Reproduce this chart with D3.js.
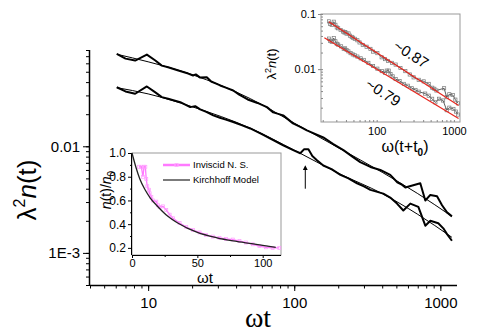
<!DOCTYPE html>
<html>
<head>
<script src="https://d3js.org/d3.v7.min.js"></script>
<style>
  body { margin: 0; background: #fff; }
  svg { font-family: "Liberation Sans", Arial, sans-serif; }
</style>
</head>
<body>
<svg id="chart" width="480" height="334"></svg>
<script>
// main panel: lambda^2 n(t) against wt, two data sets with fits
const upperData = [[6.1,0.0735],[7.0,0.0664],[8.15,0.0637],[9.8,0.0724],[11.2,0.0637],[12.4,0.0571],[13.7,0.0551],[16.1,0.0513],[18.8,0.0481],[20.3,0.0461],[21.2,0.0472],[22.7,0.0441],[25.2,0.0444],[27,0.0405],[29.5,0.0385],[31.1,0.0372],[34,0.0355],[38.2,0.0334],[42,0.0305],[48,0.0275],[56,0.0255],[65,0.0233],[71.8,0.0208],[84,0.0195],[98,0.0164],[110,0.0152],[122,0.0141],[140,0.0130],[158,0.0121],[185,0.0105],[217,0.0092],[250,0.0080],[283,0.0071],[332,0.0064],[388,0.0060],[454,0.0054],[507,0.0046],[540,0.0044],[576,0.0041],[729,0.0045],[789,0.0031],[854,0.0035],[949,0.0034],[1027,0.0028],[1111,0.0024],[1200,0.0022]];
const lowerData = [[6.1,0.0358],[7.0,0.0327],[8.15,0.0311],[9.8,0.0364],[11.2,0.0320],[12.4,0.0289],[13.7,0.0279],[16.6,0.0259],[19.4,0.0233],[21,0.0238],[22.7,0.0222],[25,0.0210],[27.9,0.0195],[31,0.0185],[34,0.0178],[38.2,0.0169],[44,0.0157],[50,0.0147],[60,0.0130],[71.8,0.0114],[84,0.0102],[98.4,0.0092],[110,0.0086],[117,0.0094],[125,0.0094],[133,0.0081],[143,0.0074],[158,0.0066],[180,0.0061],[207,0.0054],[235,0.0050],[269,0.0045],[300,0.0042],[332,0.0039],[407,0.0036],[454,0.0033],[505,0.0029],[558,0.0025],[623,0.0029],[707,0.0027],[789,0.0018],[854,0.0020],[968,0.0019],[1048,0.0017],[1111,0.0015],[1200,0.0013]];
const upperFit = [[6.1,0.073],[10,0.062],[20,0.047],[50,0.028],[100,0.0165],[200,0.0097],[400,0.0057],[700,0.0036],[1200,0.0022]];
const lowerFit = [[6.1,0.0355],[10,0.031],[20,0.0235],[50,0.0148],[100,0.0092],[200,0.0056],[400,0.0036],[700,0.0023],[1200,0.0014]];
const arrowAt = [119, 0.0040, 0.0063];

// top-right inset: same data against w(t+t0)
const t0 = 18;
const insetFitUpper = [[24,0.0724],[1150,0.0022]];
const insetFitLower = [[21,0.0371],[1150,0.00127]];
const slopeLabels = [{text: "~0.87", x: 279, y: 0.0187}, {text: "~0.79", x: 121, y: 0.0038}];

// bottom-left inset: n(t)/n0 against wt
const nsData = [[5.3,0.884],[7.1,0.884],[8.4,0.80],[9.2,0.884],[10.2,0.884],[10.9,0.78],[11.7,0.72],[13,0.69],[13.5,0.66],[14.8,0.63],[16,0.6],[18.6,0.59],[19.8,0.56],[21.1,0.545],[23.7,0.55],[26.2,0.52],[28.8,0.48],[31.3,0.45],[36.4,0.41],[41.5,0.375],[46.6,0.35],[51.7,0.33],[56.7,0.31],[61.8,0.295],[66.9,0.285],[72,0.275],[77.1,0.27],[82.2,0.257],[87.3,0.245],[92.4,0.23],[97.5,0.215],[102.5,0.205],[107.6,0.2],[112.7,0.2]];
const kirchhoffData = [[0,1.0],[3,0.88],[6,0.78],[10,0.69],[14,0.62],[20,0.545],[26,0.48],[35,0.41],[50,0.33],[65,0.285],[80,0.255],[95,0.23],[110,0.205]];
const legendLabels = ["Inviscid N. S.", "Kirchhoff Model"];

const svg = d3.select("#chart");

// ---------- main panel ----------
const x = d3.scaleLog().domain([4, 1300]).range([90, 457]);
const y = d3.scaleLog().domain([5e-4, 0.08]).range([285, 50]);

const isDecade = v => Math.abs(Math.log10(v) - Math.round(Math.log10(v))) < 1e-6;

const xMajor = x.ticks().filter(isDecade);
const yMajor = y.ticks().filter(isDecade);

svg.append("g")
    .attr("transform", "translate(0,285)")
    .call(d3.axisBottom(x).tickValues(x.ticks()).tickSize(3.5).tickFormat(""))
    .call(g => g.select(".domain").remove());
svg.append("g")
    .attr("transform", "translate(0,285)")
    .call(d3.axisBottom(x).tickValues(xMajor).tickSize(6).tickPadding(6).tickFormat(d3.format("d")))
    .call(g => g.select(".domain").attr("d", "M90,0.5H457").attr("stroke-width", 1.5))
    .call(g => g.selectAll("text").attr("font-size", 15).attr("fill", "#000"));

svg.append("g")
    .attr("transform", "translate(90,0)")
    .call(d3.axisLeft(y).tickValues(y.ticks()).tickSize(4).tickFormat(""))
    .call(g => g.select(".domain").remove());
svg.append("g")
    .attr("transform", "translate(90,0)")
    .call(d3.axisLeft(y).tickValues(yMajor).tickSize(7).tickPadding(3)
        .tickFormat(d => d === 0.001 ? "1E-3" : d3.format(".2f")(d)))
    .call(g => g.select(".domain").attr("d", "M-0.5,50V285").attr("stroke-width", 1.5))
    .call(g => g.selectAll("text").attr("font-size", 15).attr("fill", "#000"));

const line = d3.line().x(d => x(d[0])).y(d => y(d[1]));

[upperFit, lowerFit].forEach(s => {
    svg.append("path").datum(s).attr("d", line.curve(d3.curveMonotoneX))
        .attr("fill", "none").attr("stroke", "#000").attr("stroke-width", 1);
});
line.curve(d3.curveLinear);
[upperData, lowerData].forEach(s => {
    svg.append("path").datum(s).attr("d", line)
        .attr("fill", "none").attr("stroke", "#000").attr("stroke-width", 2)
        .attr("stroke-linejoin", "round");
});

// arrow
svg.append("defs").append("marker")
    .attr("id", "head").attr("viewBox", "0 0 10 10").attr("refX", 5).attr("refY", 5)
    .attr("markerWidth", 5).attr("markerHeight", 6).attr("orient", "auto")
    .append("path").attr("d", "M0,0L10,5L0,10z").attr("fill", "#000");
svg.append("line")
    .attr("x1", x(arrowAt[0])).attr("x2", x(arrowAt[0]))
    .attr("y1", y(arrowAt[1])).attr("y2", y(arrowAt[2]))
    .attr("stroke", "#000").attr("stroke-width", 1).attr("marker-end", "url(#head)");

// axis titles
const yl = svg.append("text").attr("transform", "translate(36,190) rotate(-90)")
    .attr("text-anchor", "middle").attr("font-size", 26);
yl.append("tspan").text("λ");
yl.append("tspan").attr("dy", -11).attr("font-size", 16).text("2");
yl.append("tspan").attr("dy", 11).attr("font-style", "italic").text("n");
yl.append("tspan").text("(t)");

svg.append("text").attr("x", 258).attr("y", 327).attr("text-anchor", "middle")
    .attr("font-family", "'Liberation Serif', 'Times New Roman', serif")
    .attr("font-size", 28).text("ωt");

// ---------- top-right inset ----------
const xi = d3.scaleLog().domain([19, 1200]).range([321, 460]);
const yi = d3.scaleLog().domain([0.0011, 0.1]).range([122, 14]);
const ins1 = svg.append("g");

ins1.append("rect").attr("x", 321).attr("y", 14).attr("width", 139).attr("height", 108)
    .attr("fill", "#fff").attr("stroke", "#999").attr("stroke-width", 1);

ins1.append("g").attr("transform", "translate(0,122)")
    .call(d3.axisTop(xi).tickValues(xi.ticks().filter(v => v > 19)).tickSize(2).tickFormat(""))
    .call(g => g.select(".domain").remove())
    .call(g => g.selectAll("line").attr("stroke", "#888"));
ins1.append("g").attr("transform", "translate(0,122)")
    .call(d3.axisBottom(xi).tickValues([100, 1000]).tickSize(0).tickPadding(5).tickFormat(d3.format("d")))
    .call(g => g.select(".domain").remove())
    .call(g => g.selectAll("text").attr("font-size", 11).attr("fill", "#000"));
ins1.append("g").attr("transform", "translate(321,0)")
    .call(d3.axisRight(yi).tickValues(yi.ticks()).tickSize(2).tickFormat(""))
    .call(g => g.select(".domain").remove())
    .call(g => g.selectAll("line").attr("stroke", "#888"));
ins1.append("g").attr("transform", "translate(321,0)")
    .call(d3.axisLeft(yi).tickValues([0.01, 0.1]).tickSize(3).tickPadding(2).tickFormat(d => d === 0.1 ? "0.1" : "0.01"))
    .call(g => g.select(".domain").remove())
    .call(g => g.selectAll("line").attr("stroke", "#888"))
    .call(g => g.selectAll("text").attr("font-size", 11).attr("fill", "#000"));

const lineI = d3.line().x(d => xi(d[0] + t0)).y(d => yi(d[1]));
[upperData, lowerData].forEach(s => {
    const pts = s.filter(d => d[0] + t0 <= 1205);
    ins1.append("path").datum(pts).attr("d", lineI)
        .attr("fill", "none").attr("stroke", "#333").attr("stroke-width", 0.8);
    ins1.append("g").selectAll("rect").data(pts).join("rect")
        .attr("x", d => xi(d[0] + t0) - 1.6).attr("y", d => yi(d[1]) - 1.6)
        .attr("width", 3.2).attr("height", 3.2)
        .attr("fill", "none").attr("stroke", "#777").attr("stroke-width", 0.7);
});
const fitLine = d3.line().x(d => xi(d[0])).y(d => yi(d[1]));
[insetFitUpper, insetFitLower].forEach(s => {
    ins1.append("path").datum(s).attr("d", fitLine)
        .attr("fill", "none").attr("stroke", "#e8261e").attr("stroke-width", 1.2);
});
ins1.selectAll(".slope").data(slopeLabels).join("text")
    .attr("transform", d => `translate(${xi(d.x)},${yi(d.y)}) rotate(33)`)
    .attr("text-anchor", "middle").attr("dy", "0.35em")
    .attr("font-size", 15).text(d => d.text);

const yl1 = ins1.append("text").attr("transform", "translate(276,64) rotate(-90)")
    .attr("text-anchor", "middle").attr("font-size", 13);
yl1.append("tspan").text("λ");
yl1.append("tspan").attr("dy", -5).attr("font-size", 9).text("2");
yl1.append("tspan").attr("dy", 5).attr("font-style", "italic").text("n");
yl1.append("tspan").text("(t)");

const xl1 = ins1.append("text").attr("x", 405).attr("y", 152).attr("text-anchor", "middle")
    .attr("font-size", 16);
xl1.append("tspan").text("ω(t+t");
xl1.append("tspan").attr("dy", 4).attr("font-size", 10).attr("font-weight", "bold").text("0");
xl1.append("tspan").attr("dy", -4).text(")");

// ---------- bottom-left inset ----------
const xs = d3.scaleLinear().domain([0, 114]).range([132, 281]);
const ys = d3.scaleLinear().domain([0.14, 1.0]).range([255, 153]);
const ins2 = svg.append("g");

ins2.append("rect").attr("x", 132).attr("y", 153).attr("width", 149).attr("height", 102)
    .attr("fill", "#fff").attr("stroke", "#999").attr("stroke-width", 1);

ins2.append("g").attr("transform", "translate(0,255)")
    .call(d3.axisBottom(xs).tickValues([25, 75]).tickSize(2).tickFormat(""))
    .call(g => g.select(".domain").remove());
ins2.append("g").attr("transform", "translate(0,255)")
    .call(d3.axisBottom(xs).tickValues([0, 50, 100]).tickSize(3).tickPadding(1))
    .call(g => g.select(".domain").attr("d", "M132,0.5H281"))
    .call(g => g.selectAll("text").attr("font-size", 11).attr("fill", "#000"));
ins2.append("g").attr("transform", "translate(132,0)")
    .call(d3.axisLeft(ys).tickValues([0.3, 0.5, 0.7, 0.9]).tickSize(2).tickFormat(""))
    .call(g => g.select(".domain").remove());
ins2.append("g").attr("transform", "translate(132,0)")
    .call(d3.axisLeft(ys).tickValues([0.2, 0.4, 0.6, 0.8, 1.0]).tickSize(4).tickPadding(2).tickFormat(d3.format(".1f")))
    .call(g => g.select(".domain").attr("d", "M-0.5,153V255"))
    .call(g => g.selectAll("text").attr("font-size", 12).attr("fill", "#000"));

const lineS = d3.line().x(d => xs(d[0])).y(d => ys(d[1]));
ins2.append("path").datum(nsData).attr("d", lineS)
    .attr("fill", "none").attr("stroke", "#ff7aff").attr("stroke-width", 1.3);
ins2.append("g").selectAll("rect").data(nsData).join("rect")
    .attr("x", d => xs(d[0]) - 1.5).attr("y", d => ys(d[1]) - 1.5)
    .attr("width", 3).attr("height", 3)
    .attr("fill", "none").attr("stroke", "#ff9cff").attr("stroke-width", 0.7);
ins2.append("path").datum(kirchhoffData).attr("d", lineS.curve(d3.curveMonotoneX))
    .attr("fill", "none").attr("stroke", "#222").attr("stroke-width", 1.3);

const leg = ins2.selectAll(".leg").data(legendLabels).join("g")
    .attr("transform", (d, i) => `translate(163,${165 + i * 15})`);
leg.append("line").attr("x1", 0).attr("x2", 27)
    .attr("stroke", (d, i) => i === 0 ? "#ff7aff" : "#333")
    .attr("stroke-width", (d, i) => i === 0 ? 2.5 : 1.3);
leg.filter((d, i) => i === 0).append("rect").attr("x", 12).attr("y", -1.5)
    .attr("width", 3).attr("height", 3).attr("fill", "none").attr("stroke", "#ffb0ff");
leg.append("text").attr("x", 30).attr("dy", "0.35em").attr("font-size", 9.5).text(d => d);

const yl2 = ins2.append("text").attr("transform", "translate(111,190) rotate(-90)")
    .attr("text-anchor", "middle").attr("font-size", 14);
yl2.append("tspan").attr("font-style", "italic").text("n");
yl2.append("tspan").text("(t)/");
yl2.append("tspan").attr("font-style", "italic").text("n");
yl2.append("tspan").attr("dy", 4).attr("font-size", 10).text("0");

ins2.append("text").attr("x", 205).attr("y", 283).attr("text-anchor", "middle")
    .attr("font-size", 15).text("ωt");
</script>
</body>
</html>
